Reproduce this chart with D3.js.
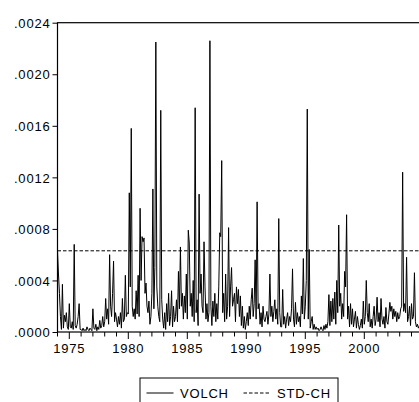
<!DOCTYPE html>
<html lang="en">
    <head>
        <meta charset="utf-8">
        <title>VOLCH</title>
        <script src="https://d3js.org/d3.v7.min.js"></script>
        <style type="text/css">
            body { margin: 0; background: #fff; }
            text { font-family: "Liberation Sans", Arial, sans-serif; font-size: 13px; letter-spacing: 0.8px; fill: #000; }
        </style>
    </head>
    <body>
        <script>
            // data: monthly VOLCH, 1974M01 onwards (one row per year)
            var startYear = 1974;
            var volch = [
                0.00063, 0.00045, 0.00030, 0.00012, 0.00002, 0.00037, 0.00003, 0.00013, 0.00008, 0.00015, 0.00004, 0.00002, // 1974
                0.00022, 0.00004, 0.00003, 0.00008, 0.00002, 0.00068, 0.00005, 0.00003, 0.00006, 0.00012, 0.00022, 0.00002, // 1975
                0.00002, 0.00001, 0.00003, 0.00001, 0.00002, 0.00001, 0.00004, 0.00002, 0.00001, 0.00003, 0.00002, 0.00001, // 1976
                0.00018, 0.00003, 0.00002, 0.00006, 0.00001, 0.00004, 0.00002, 0.00009, 0.00003, 0.00005, 0.00012, 0.00004, // 1977
                0.00008, 0.00026, 0.00010, 0.00018, 0.00006, 0.00060, 0.00020, 0.00012, 0.00030, 0.00055, 0.00008, 0.00015, // 1978
                0.00010, 0.00004, 0.00012, 0.00006, 0.00015, 0.00003, 0.00026, 0.00008, 0.00010, 0.00044, 0.00012, 0.00015, // 1979
                0.00014, 0.00108, 0.00035, 0.00158, 0.00020, 0.00012, 0.00018, 0.00010, 0.00032, 0.00014, 0.00044, 0.00012, // 1980
                0.00096, 0.00040, 0.00074, 0.00070, 0.00073, 0.00030, 0.00038, 0.00020, 0.00015, 0.00024, 0.00006, 0.00012, // 1981
                0.00030, 0.00111, 0.00018, 0.00050, 0.00225, 0.00035, 0.00020, 0.00012, 0.00008, 0.00172, 0.00025, 0.00010, // 1982
                0.00003, 0.00015, 0.00002, 0.00022, 0.00008, 0.00030, 0.00005, 0.00012, 0.00032, 0.00004, 0.00020, 0.00008, // 1983
                0.00012, 0.00025, 0.00008, 0.00047, 0.00018, 0.00066, 0.00020, 0.00030, 0.00010, 0.00028, 0.00015, 0.00045, // 1984
                0.00010, 0.00079, 0.00069, 0.00020, 0.00030, 0.00012, 0.00040, 0.00008, 0.00174, 0.00015, 0.00025, 0.00005, // 1985
                0.00107, 0.00030, 0.00045, 0.00020, 0.00015, 0.00070, 0.00035, 0.00010, 0.00022, 0.00008, 0.00015, 0.00226, // 1986
                0.00020, 0.00005, 0.00024, 0.00012, 0.00030, 0.00008, 0.00022, 0.00010, 0.00035, 0.00077, 0.00074, 0.00133, // 1987
                0.00015, 0.00030, 0.00008, 0.00045, 0.00010, 0.00020, 0.00081, 0.00012, 0.00035, 0.00050, 0.00020, 0.00025, // 1988
                0.00030, 0.00008, 0.00035, 0.00022, 0.00033, 0.00012, 0.00028, 0.00005, 0.00020, 0.00003, 0.00012, 0.00002, // 1989
                0.00008, 0.00015, 0.00005, 0.00020, 0.00010, 0.00025, 0.00034, 0.00012, 0.00022, 0.00056, 0.00010, 0.00101, // 1990
                0.00018, 0.00022, 0.00006, 0.00015, 0.00004, 0.00020, 0.00010, 0.00008, 0.00012, 0.00016, 0.00006, 0.00014, // 1991
                0.00045, 0.00012, 0.00020, 0.00008, 0.00016, 0.00025, 0.00010, 0.00018, 0.00006, 0.00088, 0.00015, 0.00004, // 1992
                0.00004, 0.00033, 0.00006, 0.00012, 0.00003, 0.00010, 0.00015, 0.00005, 0.00012, 0.00008, 0.00018, 0.00049, // 1993
                0.00010, 0.00004, 0.00023, 0.00006, 0.00015, 0.00008, 0.00012, 0.00004, 0.00028, 0.00014, 0.00057, 0.00010, // 1994
                0.00020, 0.00040, 0.00173, 0.00010, 0.00064, 0.00003, 0.00008, 0.00012, 0.00002, 0.00006, 0.00002, 0.00004, // 1995
                0.00002, 0.00003, 0.00001, 0.00002, 0.00004, 0.00002, 0.00001, 0.00005, 0.00002, 0.00006, 0.00003, 0.00008, // 1996
                0.00029, 0.00005, 0.00024, 0.00008, 0.00026, 0.00010, 0.00031, 0.00006, 0.00040, 0.00015, 0.00083, 0.00020, // 1997
                0.00030, 0.00010, 0.00022, 0.00012, 0.00047, 0.00035, 0.00091, 0.00010, 0.00020, 0.00004, 0.00022, 0.00006, // 1998
                0.00018, 0.00004, 0.00010, 0.00016, 0.00003, 0.00012, 0.00006, 0.00002, 0.00005, 0.00010, 0.00003, 0.00024, // 1999
                0.00006, 0.00012, 0.00040, 0.00015, 0.00008, 0.00022, 0.00004, 0.00010, 0.00003, 0.00012, 0.00020, 0.00005, // 2000
                0.00010, 0.00027, 0.00008, 0.00015, 0.00004, 0.00026, 0.00010, 0.00006, 0.00012, 0.00003, 0.00019, 0.00008, // 2001
                0.00006, 0.00014, 0.00023, 0.00016, 0.00020, 0.00010, 0.00018, 0.00012, 0.00016, 0.00008, 0.00015, 0.00010, // 2002
                0.00012, 0.00018, 0.00020, 0.00124, 0.00016, 0.00022, 0.00015, 0.00058, 0.00008, 0.00012, 0.00020, 0.00005, // 2003
                0.00022, 0.00010, 0.00012, 0.00046, 0.00008, 0.00004, 0.00006, 0.00003, 0.00005, 0.00008, 0.00004, 0.00006  // 2004
            ];
            var stdCh = 0.00063;
            var yTicks = [0, 0.0004, 0.0008, 0.0012, 0.0016, 0.0020, 0.0024];
            var yearLabels = [1975, 1980, 1985, 1990, 1995, 2000];
            var seriesNames = ["VOLCH", "STD-CH"];

            // configuration code
            var outerWidth = 419;
            var outerHeight = 402;
            var plotLeft = 57.5, plotTop = 22.7, plotBottom = 332;
            var pxPerYear = 11.8;
            var endYear = 2005;

            var svg = d3.select("body")
                        .append("svg")
                        .attr("width", outerWidth)
                        .attr("height", outerHeight);

            var xScale = d3.scaleLinear()
                .domain([startYear, endYear])
                .range([plotLeft, plotLeft + (endYear - startYear) * pxPerYear]);
            var yScale = d3.scaleLinear().domain([0, 0.0024]).range([plotBottom, plotTop]);

            var data = volch.map(function (v, i) { return { t: startYear + i / 12, v: v }; });

            // frame
            svg.append("rect")
                .attr("x", xScale(startYear))
                .attr("y", yScale(0.0024))
                .attr("width", xScale(endYear) - xScale(startYear))
                .attr("height", yScale(0) - yScale(0.0024))
                .attr("fill", "none")
                .attr("stroke", "#000")
                .attr("stroke-width", 1.2);

            // y axis
            var yAxis = d3.axisLeft(yScale)
                .tickValues(yTicks)
                .tickSize(5)
                .tickPadding(2)
                .tickFormat(function (d) { return d3.format(".4f")(d).replace(/^0/, ""); });
            var gy = svg.append("g")
                .attr("transform", "translate(" + plotLeft + ",0)")
                .call(yAxis);
            gy.select(".domain").remove();
            gy.selectAll("text").attr("font-size", null).attr("font-family", null).attr("dy", "0.36em");

            // x axis: minor ticks every year, longer at labelled years
            var years = d3.range(startYear, endYear + 1);
            var gx = svg.append("g");
            gx.selectAll("line").data(years).enter().append("line")
                .attr("x1", function (d) { return xScale(d); })
                .attr("x2", function (d) { return xScale(d); })
                .attr("y1", plotBottom)
                .attr("y2", function (d) { return plotBottom + (yearLabels.indexOf(d) >= 0 ? 7 : 4.5); })
                .attr("stroke", "#000");
            gx.selectAll("text").data(yearLabels).enter().append("text")
                .attr("x", function (d) { return xScale(d); })
                .attr("y", plotBottom + 21)
                .attr("text-anchor", "middle")
                .text(function (d) { return d; });

            // series
            var line = d3.line()
                .x(function (d) { return xScale(d.t); })
                .y(function (d) { return yScale(d.v); });
            svg.append("path")
                .datum(data)
                .attr("d", line)
                .attr("fill", "none")
                .attr("stroke", "#000")
                .attr("stroke-width", 1);

            svg.append("line")
                .attr("x1", xScale(startYear))
                .attr("x2", xScale(endYear))
                .attr("y1", yScale(stdCh))
                .attr("y2", yScale(stdCh))
                .attr("stroke", "#000")
                .attr("stroke-width", 1)
                .attr("stroke-dasharray", "3.5,2");

            // legend
            var lg = svg.append("g");
            lg.append("rect")
                .attr("x", 140).attr("y", 378)
                .attr("width", 198).attr("height", 40)
                .attr("fill", "none").attr("stroke", "#000");
            var legendItems = [
                { name: seriesNames[0], x: 146.5, dash: null },
                { name: seriesNames[1], x: 243.5, dash: "3.5,2" }
            ];
            legendItems.forEach(function (d) {
                lg.append("line")
                    .attr("x1", d.x).attr("x2", d.x + 27)
                    .attr("y1", 393).attr("y2", 393)
                    .attr("stroke", "#000")
                    .attr("stroke-dasharray", d.dash);
                lg.append("text")
                    .attr("x", d.x + 33.5).attr("y", 397.5)
                    .text(d.name);
            });
        </script>
    </body>
</html>
